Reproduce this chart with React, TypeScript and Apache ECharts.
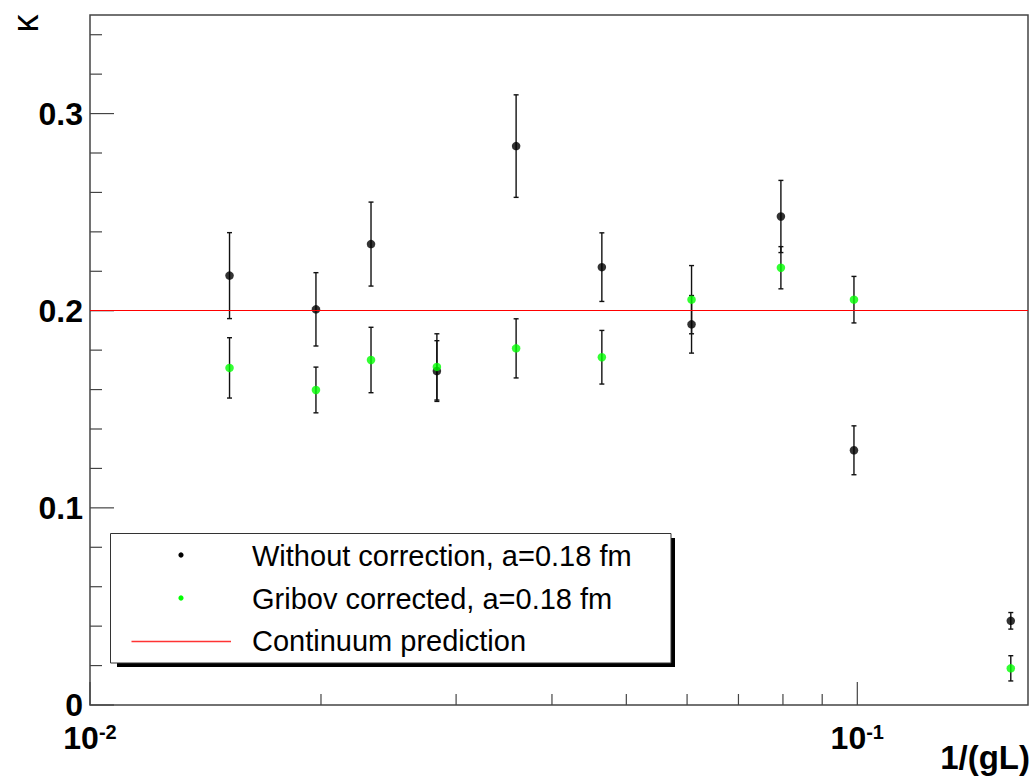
import React, { useEffect, useRef } from "react";
import * as echarts from "echarts";

// ---- data ----
const xValues = [0.0152, 0.0197, 0.02324, 0.02832, 0.03592, 0.04646, 0.06081, 0.07951, 0.099, 0.1585];
const rawKappa = [0.2178, 0.2007, 0.2338, 0.1694, 0.2835, 0.2221, 0.1931, 0.2478, 0.1292, 0.0427];
const rawErr = [0.0218, 0.0186, 0.0213, 0.0154, 0.026, 0.0174, 0.0146, 0.0183, 0.0124, 0.0042];
const gribovKappa = [0.171, 0.1598, 0.175, 0.1715, 0.1809, 0.1764, 0.2056, 0.2218, 0.2056, 0.0186];
const gribovErr = [0.0153, 0.0116, 0.0166, 0.0168, 0.015, 0.0136, 0.0173, 0.0107, 0.0118, 0.0064];
const continuumValue = 0.2;

const xMin = 0.01;
const xMax = 0.1669;
const yMin = 0;
const yMax = 0.35;
const yMajorTicks = [0, 0.1, 0.2, 0.3];
const yMinorTicks = [0.02, 0.04, 0.06, 0.08, 0.12, 0.14, 0.16, 0.18, 0.22, 0.24, 0.26, 0.28, 0.32, 0.34];
const xMajorTicks = [0.01, 0.1];
const xMinorTicks = [0.02, 0.03, 0.04, 0.05, 0.06, 0.07, 0.08, 0.09];

const legendLabels = ["Without correction, a=0.18 fm", "Gribov corrected, a=0.18 fm", "Continuum prediction"];
const xTitle = "1/(gL)";
const yTitle = "κ";

const FONT = "'Liberation Sans', Arial, Helvetica, sans-serif";
const AXIS_COLOR = "#444";

function errorBarSeries(kappa: number[], err: number[]) {
  return {
    type: "custom",
    coordinateSystem: "cartesian2d",
    encode: { x: 0, y: [1, 2] },
    z: 3,
    silent: true,
    data: xValues.map((x, i) => [x, kappa[i] - err[i], kappa[i] + err[i]]),
    renderItem: (_p: any, api: any) => {
      const top = api.coord([api.value(0), api.value(2)]);
      const bot = api.coord([api.value(0), api.value(1)]);
      const cw = 2.5;
      const style = { stroke: "#111", lineWidth: 1.4 };
      return {
        type: "group",
        children: [
          { type: "line", shape: { x1: top[0], y1: top[1], x2: bot[0], y2: bot[1] }, style },
          { type: "line", shape: { x1: top[0] - cw, y1: top[1], x2: top[0] + cw, y2: top[1] }, style },
          { type: "line", shape: { x1: bot[0] - cw, y1: bot[1], x2: bot[0] + cw, y2: bot[1] }, style },
        ],
      };
    },
  };
}

function tickSeries(values: number[], horizontalAxis: boolean, len: number) {
  return {
    type: "custom",
    coordinateSystem: "cartesian2d",
    silent: true,
    z: 2,
    data: values.map((v) => (horizontalAxis ? [v, yMin] : [xMin, v])),
    renderItem: (_p: any, api: any) => {
      const p = api.coord([api.value(0), api.value(1)]);
      const shape = horizontalAxis
        ? { x1: p[0], y1: p[1], x2: p[0], y2: p[1] - len }
        : { x1: p[0], y1: p[1], x2: p[0] + len, y2: p[1] };
      return { type: "line", shape, style: { stroke: AXIS_COLOR, lineWidth: 1.2 } };
    },
  };
}

export default function App() {
  const ref = useRef<HTMLDivElement>(null);

  useEffect(() => {
    if (!ref.current) return;
    const chart = echarts.init(ref.current, undefined, { renderer: "svg" });

    const option: any = {
      animation: false,
      backgroundColor: "#ffffff",
      grid: {
        left: 90,
        right: 1,
        top: 15,
        bottom: 72,
        show: true,
        borderColor: AXIS_COLOR,
        borderWidth: 1.5,
        backgroundColor: "transparent",
      },
      xAxis: {
        type: "log",
        logBase: 10,
        min: xMin,
        max: xMax,
        axisLine: { show: false },
        axisTick: { show: false },
        splitLine: { show: false },
        minorTick: { show: false },
        axisLabel: {
          margin: 17,
          showMinLabel: true,
          showMaxLabel: true,
          formatter: (v: number) => {
            const e = Math.log10(v);
            const r = Math.round(e);
            if (Math.abs(e - r) > 1e-6) return "";
            return `{b|10}{s|${r}}`;
          },
          rich: {
            b: { fontSize: 32, fontWeight: "bold", fontFamily: FONT, color: "#000", lineHeight: 32 },
            s: { fontSize: 20, fontWeight: "bold", fontFamily: FONT, color: "#000", lineHeight: 13, verticalAlign: "top" },
          },
        },
      },
      yAxis: {
        type: "value",
        min: yMin,
        max: yMax,
        interval: 0.1,
        axisLine: { show: false },
        axisTick: { show: false },
        splitLine: { show: false },
        axisLabel: {
          margin: 7,
          showMaxLabel: false,
          fontSize: 32,
          fontWeight: "bold",
          fontFamily: FONT,
          color: "#000",
          padding: [8, 0, 0, 0],
          formatter: (v: number) => (Math.abs(v) < 1e-9 ? "0" : v.toFixed(1)),
        },
      },
      series: [
        {
          type: "line",
          data: [],
          z: 1,
          silent: true,
          markLine: {
            silent: true,
            symbol: ["none", "none"],
            label: { show: false },
            lineStyle: { color: "#ff0000", width: 1.2, type: "solid" },
            data: [{ yAxis: continuumValue }],
          },
        },
        tickSeries(xMajorTicks, true, 23),
        tickSeries(xMinorTicks, true, 11),
        tickSeries(yMajorTicks, false, 24),
        tickSeries(yMinorTicks, false, 12),
        errorBarSeries(rawKappa, rawErr),
        {
          type: "scatter",
          z: 4,
          symbol: "circle",
          symbolSize: 8.5,
          itemStyle: { color: "#000000" },
          data: xValues.map((x, i) => [x, rawKappa[i]]),
        },
        errorBarSeries(gribovKappa, gribovErr),
        {
          type: "scatter",
          z: 5,
          symbol: "circle",
          symbolSize: 8.5,
          itemStyle: { color: "#00ff00" },
          data: xValues.map((x, i) => [x, gribovKappa[i]]),
        },
      ],
      graphic: [
        // y title
        {
          type: "text",
          x: 25,
          y: 23.5,
          rotation: Math.PI / 2,
          style: { text: yTitle, font: `36px ${FONT}`, fill: "#000", align: "center", verticalAlign: "middle" },
        },
        // x title
        {
          type: "text",
          x: 1030,
          y: 757,
          style: { text: xTitle, font: `bold 33px ${FONT}`, fill: "#000", align: "right", verticalAlign: "middle" },
        },
        // legend shadow
        { type: "rect", shape: { x: 117, y: 663, width: 558, height: 4 }, style: { fill: "#000" }, z: 100 },
        { type: "rect", shape: { x: 671, y: 538, width: 4, height: 129 }, style: { fill: "#000" }, z: 100 },
        // legend box
        {
          type: "rect",
          shape: { x: 110.5, y: 533.5, width: 560.5, height: 129.5 },
          style: { fill: "#fff", stroke: "#333", lineWidth: 1 },
          z: 101,
        },
        { type: "circle", shape: { cx: 181, cy: 555, r: 2.6 }, style: { fill: "#000" }, z: 102 },
        { type: "circle", shape: { cx: 181, cy: 598, r: 2.6 }, style: { fill: "#00ff00" }, z: 102 },
        {
          type: "line",
          shape: { x1: 131.5, y1: 641.5, x2: 231, y2: 641.5 },
          style: { stroke: "#ff3333", lineWidth: 1.3 },
          z: 102,
        },
        ...legendLabels.map((t, i) => ({
          type: "text",
          x: 252,
          y: [556, 598.5, 641][i],
          z: 102,
          style: { text: t, font: `29px ${FONT}`, fill: "#000", align: "left", verticalAlign: "middle" },
        })),
      ],
    };

    chart.setOption(option);
    return () => chart.dispose();
  }, []);

  return (
    <div
      ref={ref}
      style={{ position: "absolute", left: 0, top: 0, width: 1031, height: 777, background: "#fff" }}
    />
  );
}
